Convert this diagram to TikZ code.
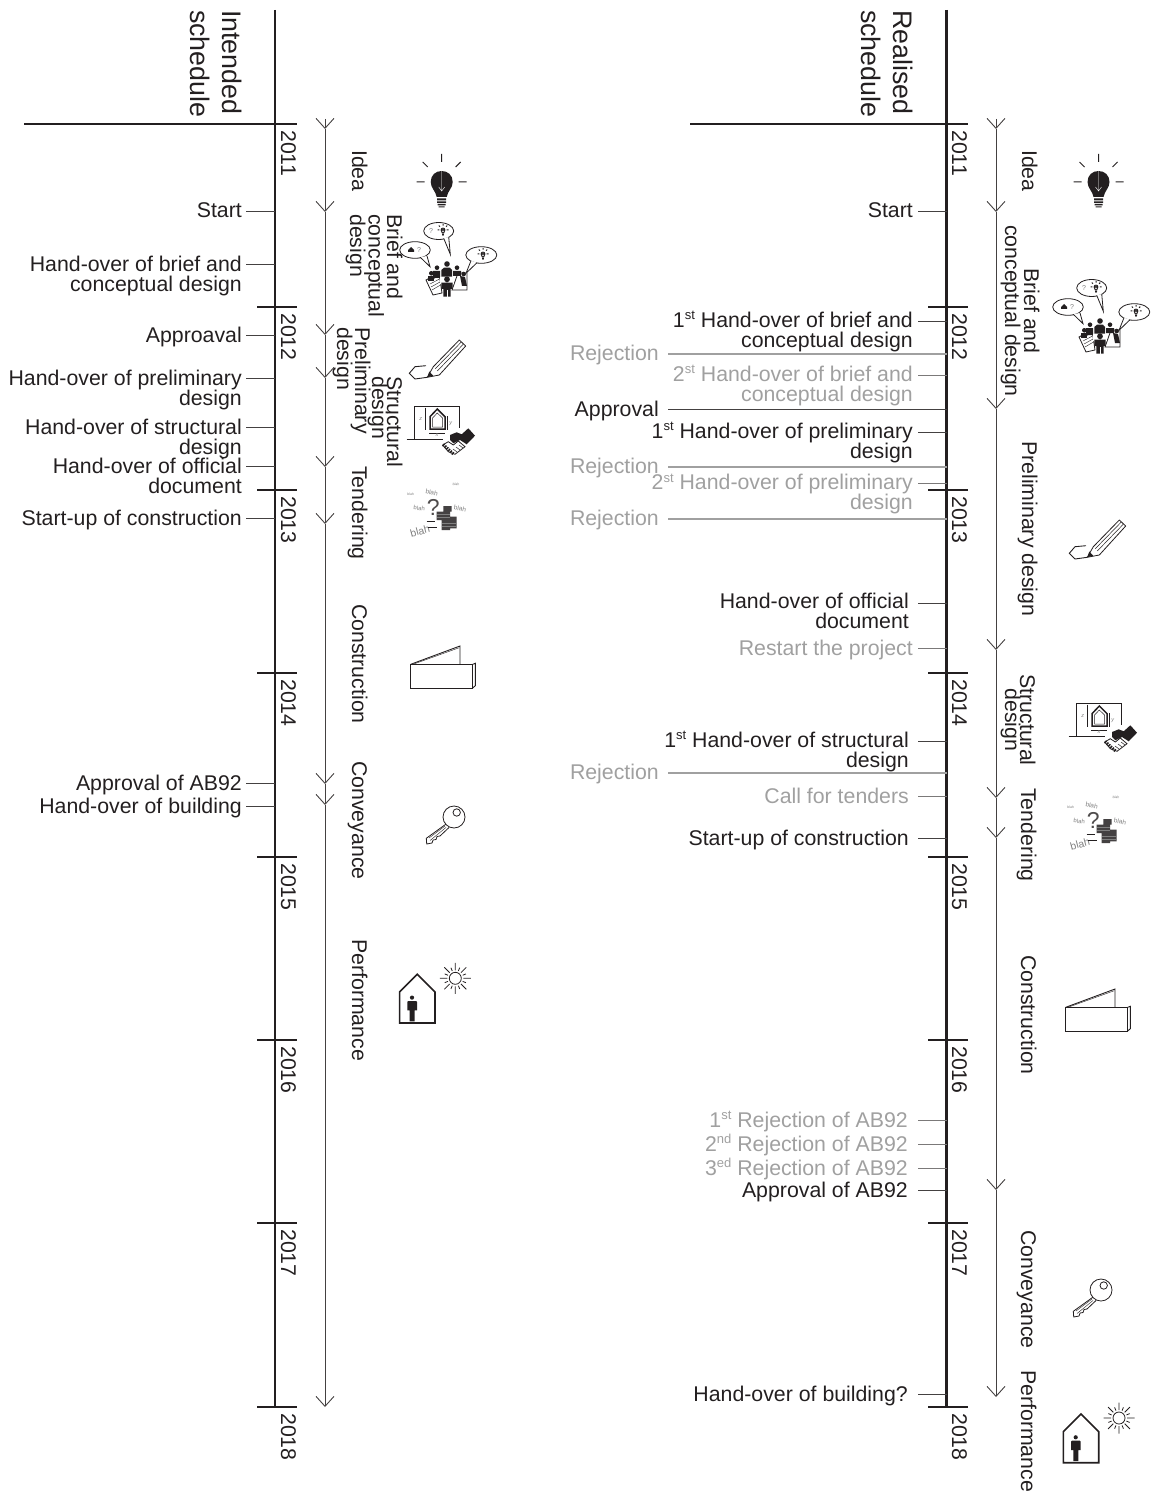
\documentclass[tikz,border=0pt]{standalone}
\usepackage{fontspec}
\setmainfont{Liberation Sans}
\usetikzlibrary{arrows.meta}
\definecolor{inkblack}{HTML}{231F20}
\definecolor{rejectgray}{HTML}{A0A0A0}
\newcommand{\ord}[1]{\raisebox{7.5pt}{\fontsize{13}{12}\selectfont #1}}

\tikzset{
  bulb/.pic={
    \draw[line width=1pt, draw=inkblack] (0,-28) -- (0,-20) (-19,-20) -- (-14,-15) (19,-20) -- (14,-15)
      (-25,0) -- (-17,0) (25,0) -- (17,0);
    \fill[inkblack] (-5,15) .. controls (-6,9) and (-11,6) .. (-11,0) .. controls (-11,-7) and (-6,-11) .. (0,-11)
      .. controls (6,-11) and (11,-7) .. (11,0) .. controls (11,6) and (6,9) .. (5,15) -- cycle;
    \draw[white, line width=0.4pt] (0,-11) -- (0,9) (-3,5) -- (0,9) -- (3,5);
    \fill[inkblack] (-4.5,16.5) rectangle (4.5,18.5) (-4.5,19.5) rectangle (4.5,21) (-4,22) rectangle (4,23.5) (-3,24.3) rectangle (3,25.5);
  },
  meeting/.pic={
    \draw[fill=white, line width=0.8pt, draw=inkblack] (-13.3,-31) ellipse (15 and 8.5);
    \draw[fill=white, line width=0.8pt, draw=inkblack] (-8.3,-23.7) -- (-1.7,-7.7) -- (-3.3,-25);
    \draw[fill=white, line width=0.8pt, draw=inkblack] (-37,-12) ellipse (15.3 and 8.3);
    \draw[fill=white, line width=0.8pt, draw=inkblack] (-31.7,-4.7) -- (-22,4.7) -- (-25,-6);
    \draw[fill=white, line width=0.8pt, draw=inkblack] (29.3,-7) ellipse (15.5 and 8.3);
    \draw[fill=white, line width=0.8pt, draw=inkblack] (19,-1.3) -- (14,11.3) -- (25,0.7);
    \pic[scale=0.22] at (-9,-32) {bulb};
    \pic[scale=0.22] at (31,-8) {bulb};
    \node[icontext, text=gray, font=\fontsize{7}{7}\selectfont] (qa) at (-21,-31) {?};
    \node[icontext, text=gray, font=\fontsize{7}{7}\selectfont] (qb) at (-33,-12) {?};
    \fill[inkblack] (-44,-12) -- (-41,-15) -- (-38,-12) -- (-38,-10) -- (-44,-10) -- cycle;
    % people round the table
    \draw[fill=white, line width=0.8pt, draw=inkblack] (-26,18) -- (-13,11) -- (-10,31) -- (-19,33) -- cycle;
    \draw[fill=white, line width=0.8pt, draw=inkblack] (6,11) -- (15,11) -- (15,28) -- (0,28) -- cycle;
    \fill[inkblack] (-5,2) circle (2.8) (-15,5.7) circle (2.3) (5,5.7) circle (2.3) (-20.7,11.3) circle (2.3) (11.7,12) circle (2.3);
    \fill[inkblack] (-10.7,14.7) -- (-10.7,8) -- (-8,5.7) -- (-2,5.7) -- (0,8) -- (0,14.7) -- cycle;
    \fill[inkblack] (-19,9) rectangle (-12,16) (1,9) rectangle (9,14) (8,14) -- (13,15) -- (15,24) -- (10,24) -- cycle;
    \fill[inkblack] (-24,14) rectangle (-18,19);
    \fill[white] (-12,22) rectangle (2,15);
    \fill[inkblack] (-5,17.3) circle (2.9) (-10.7,20.7) rectangle (0.7,27) (-8.7,27) rectangle (-1.3,34.7);
    \draw[white, line width=0.5pt] (-5,28) -- (-5,35);
    \draw[draw=inkblack, line width=0.4pt] (-23,19) -- (-13,14) (-22,22) -- (-12.5,17) (-21,25) -- (-12,20) (-20,28) -- (-11.5,23);
  },
  pencil/.pic={
    \draw[line width=0.9pt, draw=inkblack] (-14,5.7) -- (-25,6.7) -- (-30.7,13.3) -- (-25,19) -- (-12.7,17.3);
    \draw[line width=0.8pt, draw=inkblack, line join=round] (-6.7,6.7) -- (19.3,-20) -- (25.7,-14) -- (-0.7,15) -- (-12.7,17.3) -- cycle;
    \draw[line width=0.5pt, draw=inkblack] (-4.7,8.7) -- (21.3,-18) (-2.7,11) -- (23.5,-16);
    \fill[inkblack] (-12.7,17.3) -- (-10.7,11.5) -- (-6.8,15.7) -- cycle;
  },
  blueprint/.pic={
    \draw[line width=1pt, draw=inkblack] (-26,9.3) -- (-26,-24) -- (19.3,-24) -- (19.3,-2);
    \draw[line width=1.2pt, draw=inkblack] (-33.3,9.3) -- (3,9.3);
    \draw[line width=1.5pt, draw=inkblack] (-10,-13.3) -- (-2.7,-21) -- (5,-13.3) -- (5,-1) -- (-10,-1) -- cycle;
    \draw[line width=0.5pt, draw=inkblack] (-7.5,-12) -- (-2.7,-17) -- (2.5,-12) -- (2.5,-3) -- (-7.5,-3) -- cycle;
    \draw[line width=0.5pt, draw=inkblack] (-15,-22.3) -- (-15,0) (7.7,-14) -- (7.7,0) (-11,3) -- (5,3);
    \node[icontext, text=gray, font=\fontsize{5.5}{6}\itshape] (dz) at (-19.3,-11) {z};
    \node[icontext, text=gray, font=\fontsize{5.5}{6}\itshape] (dy) at (10.7,-6) {y};
    \node[icontext, text=gray, font=\fontsize{5.5}{6}\itshape] (dx) at (-3,5) {x};
    % handshake
    \fill[inkblack] (10,5) -- (16.7,2.3) -- (21.7,4.3) -- (28.3,-1.7) -- (35,5.7) -- (26.7,14.3) -- (20,10) -- (13.3,13.3) -- (10,10) -- cycle;
    \draw[fill=white, line width=0.8pt, draw=inkblack] (2.7,15) -- (8.3,21.7) -- (15,24.3) -- (25,16.7) -- (18.3,11) -- (13.3,15) -- (8.3,11.7) -- cycle;
    \draw[line width=3pt, draw=inkblack, dash pattern=on 1.5pt off 1pt] (3,14.5) -- (14,24.5);
    \draw[line width=0.5pt, draw=inkblack] (13,19) -- (17,22) (16,17) -- (20,20) (19,15) -- (23,18);
  },
  papers/.pic={
    \node[icontext, text=gray, rotate=-10, font=\fontsize{6.5}{7}\selectfont] (ba) at (-3.3,-12.3) {blah};
    \node[icontext, text=gray, rotate=-5, font=\fontsize{6}{7}\selectfont] (bb) at (-15.7,3.3) {blah};
    \node[icontext, text=gray, rotate=-10, font=\fontsize{6.5}{7}\selectfont] (bc) at (25,3.3) {blah};
    \node[icontext, text=gray, rotate=15, font=\fontsize{10.5}{11}\selectfont] (bd) at (-15,26) {blah};
    \node[icontext, text=gray, font=\fontsize{3.5}{4}\selectfont] (be) at (-24.3,-11) {blah};
    \node[icontext, text=gray, rotate=-5, font=\fontsize{3.5}{4}\selectfont] (bf) at (21,-20.7) {blah};
    \node[icontext, text=inkblack!80, font=\fontsize{23}{23}\selectfont] (bq) at (-1.7,2.3) {?};
    \fill[inkblack!85] (8.3,1) rectangle (16.7,6.7) (1.7,6.7) rectangle (15,15) (15,11.7) rectangle (21.7,23.3) (6.7,15) rectangle (15,25);
    \draw[gray, line width=0.5pt] (2,9) -- (15,9) (2,12) -- (15,12) (7,18) -- (21,18) (7,21) -- (21,21);
    \draw[draw=inkblack, line width=1.3pt] (-8.3,16.7) -- (0,16.7) (-6.7,22.3) -- (1.7,22.3);
  },
  folder/.pic={
    \draw[line width=0.9pt, draw=inkblack] (-29.3,-0.7) rectangle (32.7,23);
    \draw[line width=0.9pt, draw=inkblack] (32.7,-0.7) -- (35.3,-1.7) -- (35.3,20.7) -- (32.7,23);
    \draw[line width=0.9pt, draw=inkblack] (-29.3,-0.7) -- (20,-19) -- (20,-0.7);
    \draw[line width=0.4pt, draw=inkblack] (-27,-0.7) -- (19.3,-17.3);
  },
  keyicon/.pic={
    \draw[line width=0.8pt, draw=inkblack] (0,0) circle (11) (2.7,-4.5) circle (3.7);
    \draw[line width=0.8pt, draw=inkblack, line join=round] (-8.3,7.3) -- (-27.7,21.3) -- (-27.3,27) -- (-22,26) -- (-21,23) -- (-18,22.5) -- (-17,19.5) -- (-14,19) -- (-5,10.5);
    \draw[line width=0.4pt, draw=inkblack] (-25,21) -- (-9,9) (-24,23.5) -- (-8,10.5);
  },
  homesun/.pic={
    \draw[line width=1.6pt, draw=inkblack] (-17.7,48.7) -- (-17.7,17.7) -- (0,0) -- (17.7,17.7) -- (17.7,48.7) -- cycle;
    \fill[inkblack] (-5.3,23.3) circle (2.1);
    \fill[inkblack] (-10,36) -- (-10,27.5) -- (-9,26.7) -- (-1.3,26.7) -- (-0.3,27.5) -- (-0.3,36) -- (-2.7,36) -- (-2.7,47) -- (-7.7,47) -- (-7.7,36) -- cycle;
    \begin{scope}[shift={(38,4)}]
      \draw[line width=0.8pt, draw=inkblack] (0,0) circle (6);
      \draw[line width=0.8pt, draw=inkblack] (0:8) -- (0:15.5) (45:8) -- (45:15.5) (90:8) -- (90:15.5) (135:8) -- (135:15.5)
        (180:8) -- (180:15.5) (225:8) -- (225:15.5) (270:8) -- (270:15.5) (315:8) -- (315:15.5)
        (22.5:8) -- (22.5:11.5) (67.5:8) -- (67.5:11.5) (112.5:8) -- (112.5:11.5) (157.5:8) -- (157.5:11.5)
        (202.5:8) -- (202.5:11.5) (247.5:8) -- (247.5:11.5) (292.5:8) -- (292.5:11.5) (337.5:8) -- (337.5:11.5);
    \end{scope}
  },
}

\begin{document}
\begin{tikzpicture}[x=1pt, y=-1pt,
    icontext/.style={inner sep=0pt},
    every node/.style={inner sep=0pt, text=inkblack, font=\fontsize{21.3}{20}\selectfont},
    lbl/.style={anchor=base east, align=right},
    grey/.style={text=rejectgray},
    phasename/.style={rotate=-90, anchor=base west, align=left},
    phasemid/.style={rotate=-90, anchor=base, align=center},
    yearname/.style={rotate=-90, anchor=base west},
    titlename/.style={rotate=-90, anchor=base west, align=left, font=\fontsize{26.8}{32}\selectfont},
    axisline/.style={draw=inkblack, line width=2.8pt},
    yeartick/.style={draw=inkblack, line width=2.8pt},
    tickline/.style={draw=inkblack!85, line width=0.9pt},
    greytick/.style={draw=inkblack!60, line width=0.9pt},
    rejectline/.style={draw=rejectgray, line width=1.3pt},
    phase/.style={draw=inkblack!85, line width=0.9pt, -{Straight Barb[length=10pt, width=18pt, line width=0.9pt]}},
  ]
  \useasboundingbox (0,0) rectangle (1155,1495);

  % ==========================================
  % Intended schedule
  % ==========================================
  \coordinate (axisL) at (275,10);
  \draw[axisline] (axisL) -- (275,1407);
  \draw[yeartick] (24,124) -- (297,124);
  \draw[yeartick] (257,307) -- (297,307);
  \draw[yeartick] (257,490) -- (297,490);
  \draw[yeartick] (257,673) -- (297,673);
  \draw[yeartick] (257,857) -- (297,857);
  \draw[yeartick] (257,1040) -- (297,1040);
  \draw[yeartick] (257,1223) -- (297,1223);
  \draw[yeartick] (257,1407) -- (297,1407);
  \node[titlename] (titleL) at (190,10) {Intended\\schedule};

  % Years
  \node[yearname] (y11L) at (281,130) {2011};
  \node[yearname] (y12L) at (281,313) {2012};
  \node[yearname] (y13L) at (281,496) {2013};
  \node[yearname] (y14L) at (281,679) {2014};
  \node[yearname] (y15L) at (281,863) {2015};
  \node[yearname] (y16L) at (281,1046) {2016};
  \node[yearname] (y17L) at (281,1229) {2017};
  \node[yearname] (y18L) at (281,1413) {2018};

  % Milestones
  \node[lbl] (startL) at (242,218) {Start};
  \draw[tickline] ([xshift=4pt, yshift=7pt]startL.base east) -- ([yshift=7pt]startL.base east -| axisL);
  \node[lbl] (briefL) at (242,291) {Hand-over of brief and\\conceptual design};
  \draw[tickline] ([xshift=4pt, yshift=27pt]briefL.base east) -- ([yshift=27pt]briefL.base east -| axisL);
  \node[lbl] (apprL) at (242,342) {Approaval};
  \draw[tickline] ([xshift=4pt, yshift=7pt]apprL.base east) -- ([yshift=7pt]apprL.base east -| axisL);
  \node[lbl] (prelL) at (242,405) {Hand-over of preliminary\\design};
  \draw[tickline] ([xshift=4pt, yshift=27pt]prelL.base east) -- ([yshift=27pt]prelL.base east -| axisL);
  \node[lbl] (strucL) at (242,454) {Hand-over of structural\\design};
  \draw[tickline] ([xshift=4pt, yshift=27pt]strucL.base east) -- ([yshift=27pt]strucL.base east -| axisL);
  \node[lbl] (offL) at (242,493) {Hand-over of official\\document};
  \draw[tickline] ([xshift=4pt, yshift=27pt]offL.base east) -- ([yshift=27pt]offL.base east -| axisL);
  \node[lbl] (buildL) at (242,525) {Start-up of construction};
  \draw[tickline] ([xshift=4pt, yshift=7pt]buildL.base east) -- ([yshift=7pt]buildL.base east -| axisL);
  \node[lbl] (abL) at (242,790) {Approval of AB92};
  \draw[tickline] ([xshift=4pt, yshift=7pt]abL.base east) -- ([yshift=7pt]abL.base east -| axisL);
  \node[lbl] (handL) at (242,813) {Hand-over of building};
  \draw[tickline] ([xshift=4pt, yshift=7pt]handL.base east) -- ([yshift=7pt]handL.base east -| axisL);

  % Phase line
  \coordinate (pA0) at (325,119);
  \coordinate (pA1) at (325,129);
  \coordinate (pA2) at (325,212);
  \coordinate (pA3) at (325,335);
  \coordinate (pA4) at (325,378);
  \coordinate (pA5) at (325,467);
  \coordinate (pA6) at (325,524);
  \coordinate (pA7) at (325,784);
  \coordinate (pA8) at (325,805);
  \coordinate (pA9) at (325,1407);
  \draw[phase] (pA0) -- (pA1);
  \draw[phase] (pA1) -- (pA2);
  \draw[phase] (pA2) -- (pA3);
  \draw[phase] (pA3) -- (pA4);
  \draw[phase] (pA4) -- (pA5);
  \draw[phase] (pA5) -- (pA6);
  \draw[phase] (pA6) -- (pA7);
  \draw[phase] (pA7) -- (pA8);
  \draw[phase] (pA8) -- (pA9);

  % Phases
  \node[phasename] (ideaL) at (352,150) {Idea};
  \node[phasename] (conceptL) at (350,214) {Brief and\\[-1.5pt]conceptual\\[-1.5pt]design};
  \node[phasename] (prelimL) at (337,327) {Preliminary\\[-2pt]design};
  \node[phasename] (structL) at (372,376) {Structural\\[-5pt]design};
  \node[phasename] (tenderL) at (352,466) {Tendering};
  \node[phasename] (constrL) at (352,604) {Construction};
  \node[phasename] (conveyL) at (352,761) {Conveyance};
  \node[phasename] (perfL) at (352,939) {Performance};

  % Icons
  \pic at (441.7,182) {bulb};
  \pic at (452,262) {meeting};
  \pic at (440,360) {pencil};
  \pic at (440,430) {blueprint};
  \pic (papL) at (435,505) {papers};
  \pic at (440,665) {folder};
  \pic at (454,817) {keyicon};
  \pic at (417.3,974.3) {homesun};

  % ==========================================
  % Realised schedule
  % ==========================================
  \coordinate (axisR) at (946.5,10);
  \draw[axisline] (axisR) -- (946.5,1407);
  \draw[yeartick] (690,124) -- (968,124);
  \draw[yeartick] (928,307) -- (968,307);
  \draw[yeartick] (928,490) -- (968,490);
  \draw[yeartick] (928,673) -- (968,673);
  \draw[yeartick] (928,857) -- (968,857);
  \draw[yeartick] (928,1040) -- (968,1040);
  \draw[yeartick] (928,1223) -- (968,1223);
  \draw[yeartick] (928,1407) -- (968,1407);
  \node[titlename] (titleR) at (861,10) {Realised\\schedule};

  % Years
  \node[yearname] (y11R) at (952,130) {2011};
  \node[yearname] (y12R) at (952,313) {2012};
  \node[yearname] (y13R) at (952,496) {2013};
  \node[yearname] (y14R) at (952,679) {2014};
  \node[yearname] (y15R) at (952,863) {2015};
  \node[yearname] (y16R) at (952,1046) {2016};
  \node[yearname] (y17R) at (952,1229) {2017};
  \node[yearname] (y18R) at (952,1413) {2018};

  % Milestones
  \node[lbl] (startR) at (913,218) {Start};
  \draw[tickline] ([xshift=5pt, yshift=7pt]startR.base east) -- ([yshift=7pt]startR.base east -| axisR);
  \node[lbl] (brfaR) at (913,347) {1\ord{st} Hand-over of brief and\\conceptual design};
  \draw[tickline] ([xshift=5pt, yshift=26pt]brfaR.base east) -- ([yshift=26pt]brfaR.base east -| axisR);
  \node[lbl, grey] (rejaR) at (659,360) {Rejection};
  \draw[rejectline] ([xshift=9pt, yshift=6pt]rejaR.base east) -- ([yshift=6pt]rejaR.base east -| axisR);
  \node[lbl, grey] (brfbR) at (913,401) {2\ord{st} Hand-over of brief and\\conceptual design};
  \draw[greytick] ([xshift=5pt, yshift=26pt]brfbR.base east) -- ([yshift=26pt]brfbR.base east -| axisR);
  \node[lbl] (apprR) at (659,416) {Approval};
  \draw[tickline] ([xshift=9pt, yshift=7pt]apprR.base east) -- ([yshift=7pt]apprR.base east -| axisR);
  \node[lbl] (prlaR) at (913,458) {1\ord{st} Hand-over of preliminary\\design};
  \draw[tickline] ([xshift=5pt, yshift=26pt]prlaR.base east) -- ([yshift=26pt]prlaR.base east -| axisR);
  \node[lbl, grey] (rejbR) at (659,473) {Rejection};
  \draw[rejectline] ([xshift=9pt, yshift=6pt]rejbR.base east) -- ([yshift=6pt]rejbR.base east -| axisR);
  \node[lbl, grey] (prlbR) at (913,509.5) {2\ord{st} Hand-over of preliminary\\design};
  \draw[greytick] ([xshift=5pt, yshift=26pt]prlbR.base east) -- ([yshift=26pt]prlbR.base east -| axisR);
  \node[lbl, grey] (rejcR) at (659,525) {Rejection};
  \draw[rejectline] ([xshift=9pt, yshift=6pt]rejcR.base east) -- ([yshift=6pt]rejcR.base east -| axisR);
  \node[lbl] (offR) at (909,628) {Hand-over of official\\document};
  \draw[tickline] ([xshift=9pt, yshift=25pt]offR.base east) -- ([yshift=25pt]offR.base east -| axisR);
  \node[lbl, grey] (restR) at (913,655) {Restart the project};
  \draw[greytick] ([xshift=5pt, yshift=7pt]restR.base east) -- ([yshift=7pt]restR.base east -| axisR);
  \node[lbl] (strucR) at (909,767) {1\ord{st} Hand-over of structural\\design};
  \draw[tickline] ([xshift=9pt, yshift=26pt]strucR.base east) -- ([yshift=26pt]strucR.base east -| axisR);
  \node[lbl, grey] (rejdR) at (659,779.5) {Rejection};
  \draw[rejectline] ([xshift=9pt, yshift=6.5pt]rejdR.base east) -- ([yshift=6.5pt]rejdR.base east -| axisR);
  \node[lbl, grey] (callR) at (909,803) {Call for tenders};
  \draw[greytick] ([xshift=9pt, yshift=7pt]callR.base east) -- ([yshift=7pt]callR.base east -| axisR);
  \node[lbl] (buildR) at (909,845) {Start-up of construction};
  \draw[tickline] ([xshift=9pt, yshift=7pt]buildR.base east) -- ([yshift=7pt]buildR.base east -| axisR);
  \node[lbl, grey] (abaR) at (908,1127) {1\ord{st} Rejection of AB92};
  \draw[greytick] ([xshift=10pt, yshift=7pt]abaR.base east) -- ([yshift=7pt]abaR.base east -| axisR);
  \node[lbl, grey] (abbR) at (908,1151) {2\ord{nd} Rejection of AB92};
  \draw[greytick] ([xshift=10pt, yshift=7pt]abbR.base east) -- ([yshift=7pt]abbR.base east -| axisR);
  \node[lbl, grey] (abcR) at (908,1175) {3\ord{ed} Rejection of AB92};
  \draw[greytick] ([xshift=10pt, yshift=7pt]abcR.base east) -- ([yshift=7pt]abcR.base east -| axisR);
  \node[lbl] (abR) at (908,1197) {Approval of AB92};
  \draw[tickline] ([xshift=10pt, yshift=7pt]abR.base east) -- ([yshift=7pt]abR.base east -| axisR);
  \node[lbl] (handR) at (908,1401) {Hand-over of building?};
  \draw[tickline] ([xshift=10pt, yshift=7pt]handR.base east) -- ([yshift=7pt]handR.base east -| axisR);

  % Phase line
  \coordinate (pB0) at (996,119);
  \coordinate (pB1) at (996,129);
  \coordinate (pB2) at (996,212);
  \coordinate (pB3) at (996,409);
  \coordinate (pB4) at (996,650);
  \coordinate (pB5) at (996,798);
  \coordinate (pB6) at (996,838);
  \coordinate (pB7) at (996,1190);
  \coordinate (pB8) at (996,1397);
  \draw[phase] (pB0) -- (pB1);
  \draw[phase] (pB1) -- (pB2);
  \draw[phase] (pB2) -- (pB3);
  \draw[phase] (pB3) -- (pB4);
  \draw[phase] (pB4) -- (pB5);
  \draw[phase] (pB5) -- (pB6);
  \draw[phase] (pB6) -- (pB7);
  \draw[phase] (pB7) -- (pB8);

  % Phases
  \node[phasename] (ideaR) at (1022,150) {Idea};
  \node[phasemid] (conceptR) at (1005,311) {Brief and\\[-1pt]conceptual design};
  \node[phasename] (prelimR) at (1022,441) {Preliminary design};
  \node[phasemid] (structR) at (1005,720) {Structural\\[-5pt]design};
  \node[phasename] (tenderR) at (1021,788) {Tendering};
  \node[phasename] (constrR) at (1021,955) {Construction};
  \node[phasename] (conveyR) at (1021,1230) {Conveyance};
  \node[phasename] (perfR) at (1021,1370) {Performance};

  % Icons
  \pic at (1098.5,182) {bulb};
  \pic at (1105,319) {meeting};
  \pic at (1100,540) {pencil};
  \pic at (1102,727) {blueprint};
  \pic (papR) at (1095,818) {papers};
  \pic at (1095,1008) {folder};
  \pic at (1101,1290) {keyicon};
  \pic at (1081,1414) {homesun};
\end{tikzpicture}
\end{document}
